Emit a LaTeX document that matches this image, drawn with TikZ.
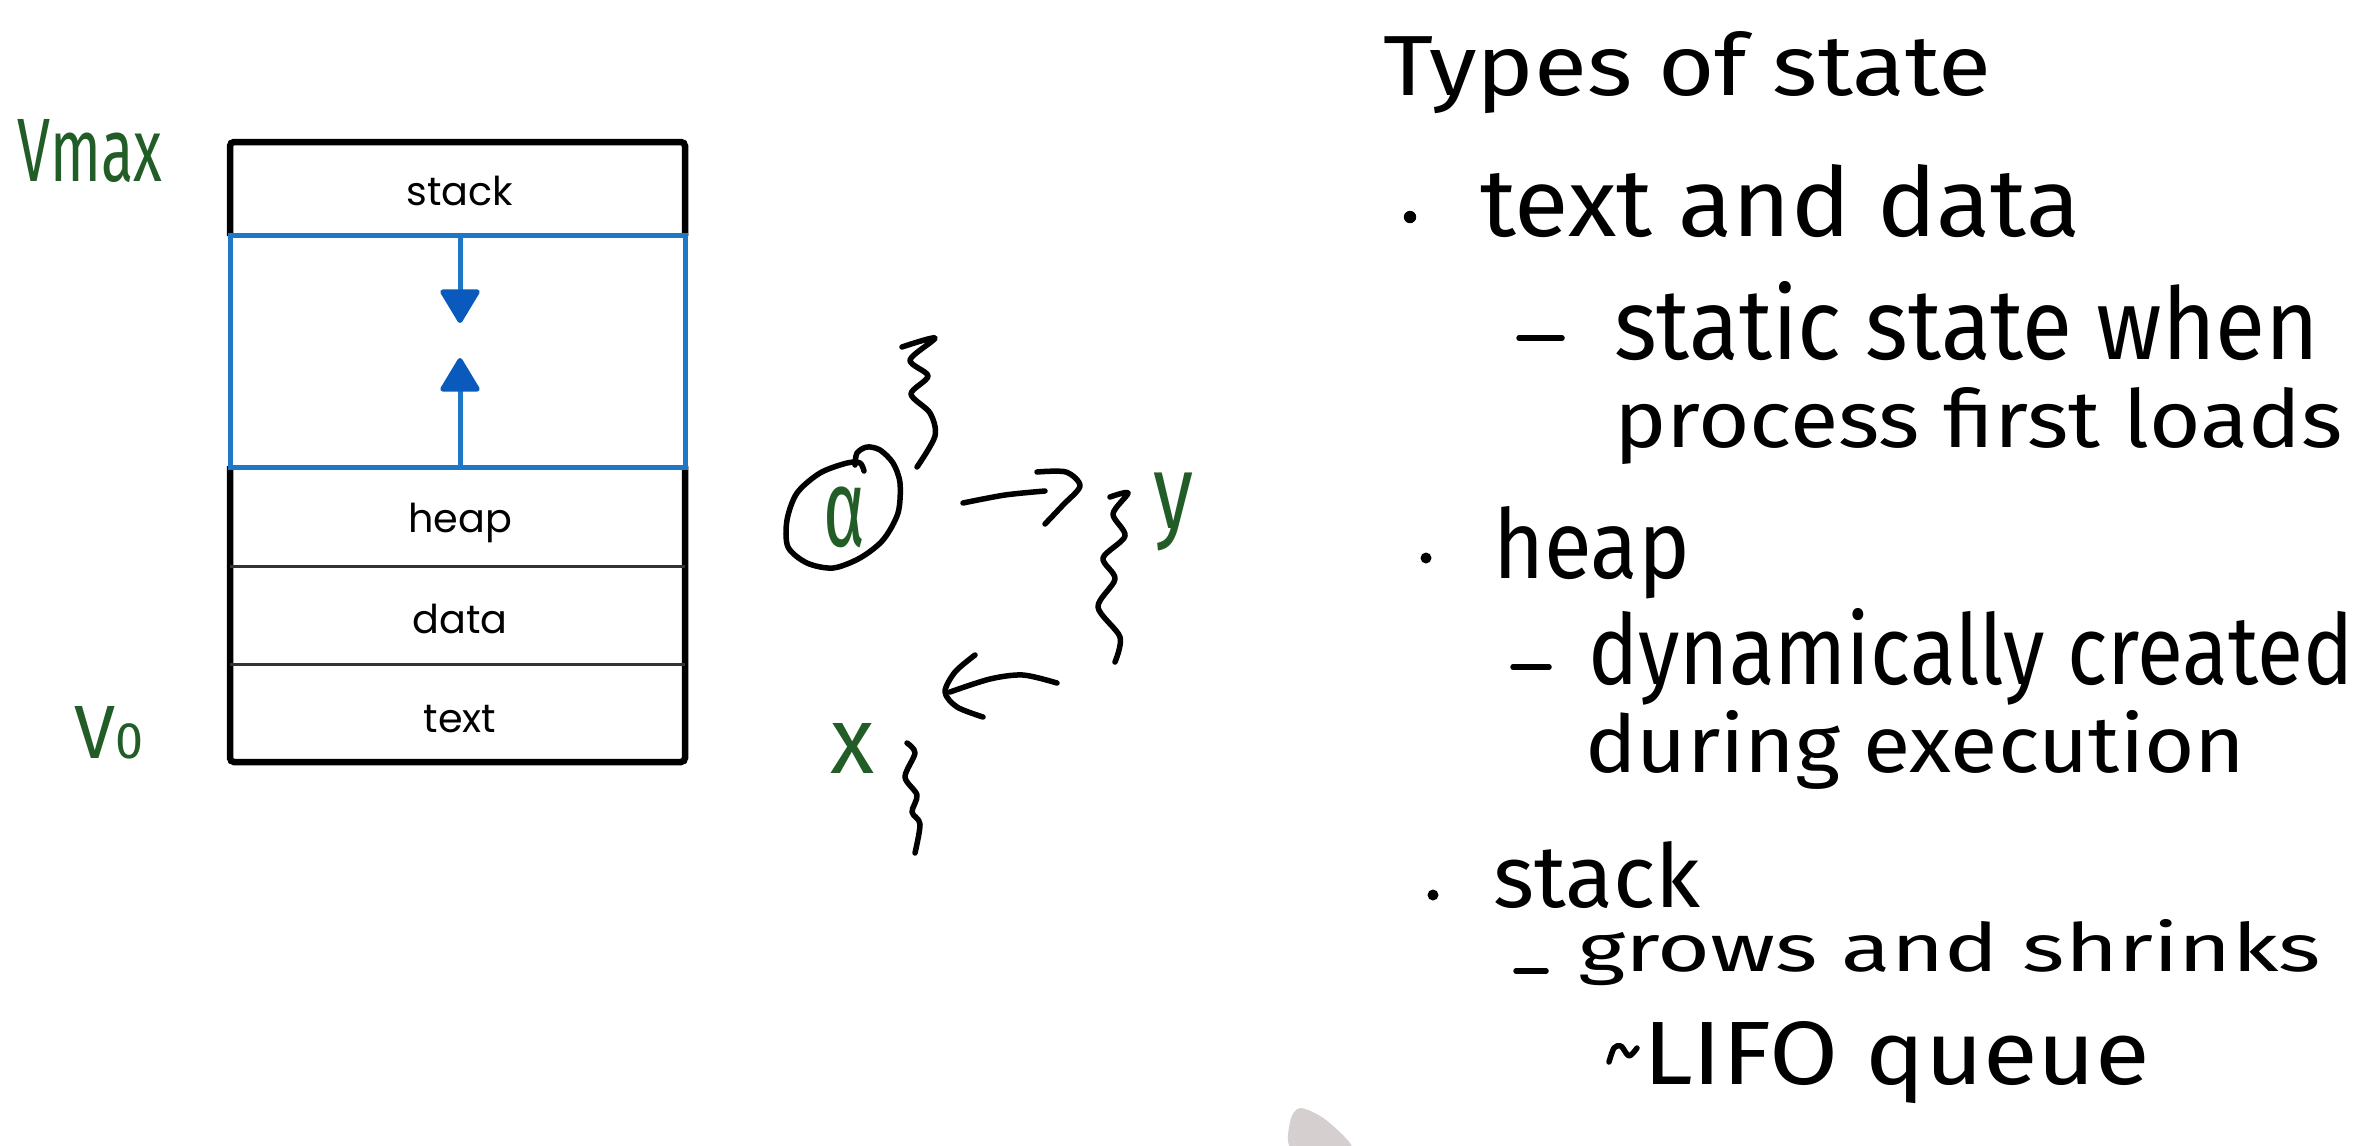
\documentclass[tikz,border=0pt]{standalone}
\usepackage{fontspec}
\setmainfont{Fira Sans}
\newfontfamily\boxfont{Poppins}
\usepackage{graphicx}
\usetikzlibrary{arrows.meta}
\definecolor{hgreen}{RGB}{34,92,38}
\definecolor{lblue}{RGB}{31,119,200}
\definecolor{hblue}{RGB}{10,90,190}
\definecolor{pen}{RGB}{214,207,207}
\newcommand{\fitto}[3]{\resizebox{#1cm}{#2cm}{#3}}
\begin{document}
\begin{tikzpicture}[x=0.01cm,y=-0.01cm,
  hand/.style={line width=0.055cm, line cap=round, line join=round},
  hwtext/.style={anchor=base west, inner sep=0, outer sep=0},
  boxlabel/.style={anchor=base, inner sep=0, font=\boxfont\fontsize{11.3}{13}\selectfont},
  frameline/.style={line width=0.065cm, rounded corners=0.04cm},
  sepline/.style={line width=0.03cm, black!80},
  blueline/.style={lblue, line width=0.05cm},
  bluearrow/.style={lblue, line width=0.05cm, -{Triangle[length=0.36cm,width=0.42cm,round,color=hblue,fill=hblue]}},
  bulletdot/.style={fill=black},
  greenlabel/.style={text=hgreen, inner sep=0, outer sep=0}]
\fill[white] (0,0) rectangle (2375,1145);
\useasboundingbox (0,0) rectangle (2375,1145);

% ---------- address space box ----------
\draw[frameline] (230,236) -- (230,142) -- (685,142) -- (685,236);
\draw[frameline] (230,466) -- (230,762) -- (685,762) -- (685,466);
\draw[sepline] (230,566) -- (685,566);
\draw[sepline] (230,664) -- (685,664);
\draw[blueline] (230,235) rectangle (685,467);
\node[boxlabel] (lstack) at (460,205) {stack};
\node[boxlabel] (lheap) at (460,532) {heap};
\node[boxlabel] (ldata) at (460,633) {data};
\node[boxlabel] (ltext) at (460,732) {text};
\coordinate (dtop) at (460,235);
\coordinate (dtip) at (460,323);
\coordinate (ubot) at (460,467);
\coordinate (utip) at (460,358);
\draw[bluearrow] (dtop) -- (dtip);
\draw[bluearrow] (ubot) -- (utip);

% ---------- green labels ----------
\node[hwtext, greenlabel] (vmax) at (18,181) {\fitto{1.44}{0.62}{Vmax}};
\node[hwtext, greenlabel] (vzero) at (74,758) {\fitto{0.69}{0.52}{V\scalebox{0.68}{0}}};

% ---------- threads sketch ----------
\draw[hand] plot[smooth] coordinates {(855,465) (857,453) (867,447) (880,450) (893,463) (900,483) (898,513) (883,540) (860,558) (833,568) (807,563) (788,547) (787,520) (797,493) (820,473) (847,463) (860,463) (864,471)};
\node[anchor=north west, greenlabel] (alpha) at (823,487) {\resizebox*{0.42cm}{0.61cm}{α}};
\node[anchor=north west, greenlabel] (ylab) at (1153,473) {\resizebox*{0.40cm}{0.78cm}{y}};
\node[hwtext, greenlabel] (xlab) at (830,773) {\fitto{0.44}{0.50}{x}};

% squiggles
\draw[hand] plot[smooth] coordinates {(902,347) (935,338) (910,360) (928,376) (911,394) (930,413) (935,436) (917,467)};
\draw[hand] plot[smooth] coordinates {(1110,497) (1128,493) (1113,514) (1125,536) (1103,558) (1115,579) (1098,607) (1120,637) (1115,662)};
\draw[hand] plot[smooth] coordinates {(907,743) (915,753) (905,777) (917,795) (912,812) (920,824) (915,853)};

% right arrow
\coordinate (ra) at (963,503);
\coordinate (rb) at (1045,491);
\draw[hand] plot[smooth] coordinates {(ra) (1005,495) (rb)};
\draw[hand] plot[smooth] coordinates {(1037,472) (1066,472) (1080,486) (1063,505) (1045,524)};
% left arrow
\coordinate (la) at (1057,683);
\coordinate (lb) at (950,692);
\draw[hand] plot[smooth] coordinates {(la) (1023,675) (990,679) (lb)};
\draw[hand] plot[smooth] coordinates {(975,655) (955,672) (945,692) (957,707) (983,717)};

% ---------- notes ----------
\node[hwtext] (t1) at (1383,95) {\fitto{6.08}{0.64}{Types of state}};
\fill[bulletdot] (1410,217) circle[radius=0.062cm];
\node[hwtext] (t2) at (1480,236) {\fitto{6.0}{0.72}{text and data}};
\draw[hand] (1519,338) -- (1562,338);
\node[hwtext] (t3) at (1614,359) {\fitto{7.05}{0.78}{static state when}};
\node[hwtext] (t4) at (1614,447) {\fitto{7.28}{0.60}{process first loads}};
\fill[bulletdot] (1426,558) circle[radius=0.055cm];
\node[hwtext] (t5) at (1493,578) {\fitto{1.97}{0.72}{heap}};
\draw[hand] (1513,667) -- (1549,667);
\node[hwtext] (t6) at (1588,684) {\fitto{7.65}{0.76}{dynamically created}};
\node[hwtext] (t7) at (1585,772) {\fitto{6.60}{0.62}{during execution}};
\fill[bulletdot] (1433,895) circle[radius=0.055cm];
\node[hwtext] (t8) at (1493,907) {\fitto{2.07}{0.66}{stack}};
\draw[hand] (1516,971) -- (1546,971);
\node[hwtext] (t9) at (1578,971) {\fitto{7.42}{0.52}{grows and shrinks}};
\draw[hand] plot[smooth] coordinates {(1609,1062) (1614,1048) (1621,1046) (1629,1056) (1637,1048)};
\node[hwtext] (t10) at (1643,1084) {\fitto{5.07}{0.63}{LIFO queue}};

% pen shadow
\fill[pen] plot[smooth cycle] coordinates {(1293,1150) (1290,1122) (1300,1108) (1326,1120) (1352,1150)};
\end{tikzpicture}
\end{document}
